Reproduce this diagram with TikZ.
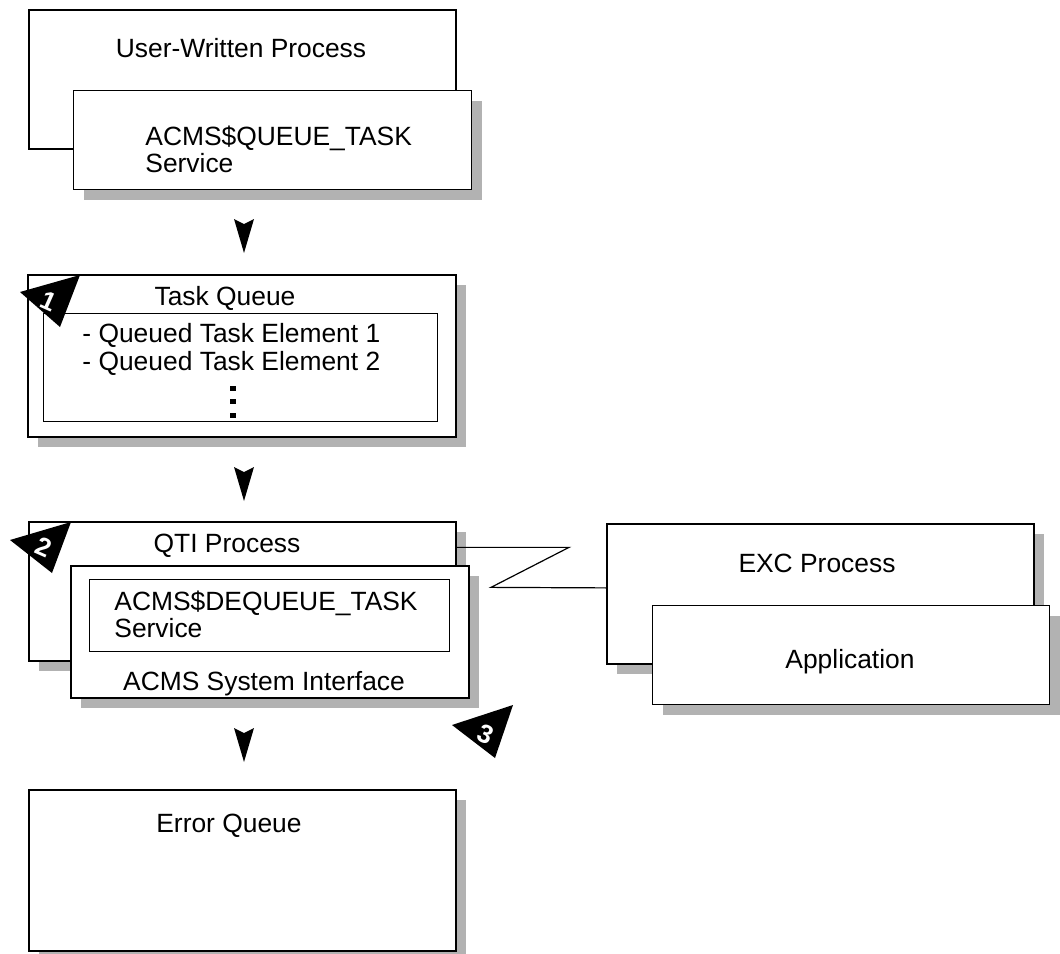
\documentclass[tikz,border=0pt]{standalone}
\usepackage{fontspec}
\setmainfont{Liberation Sans}
\usetikzlibrary{calc, shadows}
\tikzset{
  box/.style={draw, fill=white, line width=1pt, anchor=north west, inner sep=0pt},
  thinbox/.style={box, line width=0.5pt},
  shade/.style={drop shadow={shadow xshift=5pt, shadow yshift=-5pt, fill=black!30, opacity=1}},
  lbl/.style={inner sep=0pt, font=\fontsize{13.2}{13.4}\selectfont},
  digit/.style={inner sep=0pt, text=white, rotate=-24, font=\fontsize{13}{13}\selectfont\bfseries},
  link/.style={line width=0.6pt},
  downtip/.pic={\fill (-10,0) -- (0,5) -- (10,0) -- (0,34) -- cycle;}
}

\begin{document}
\begin{tikzpicture}[x=0.5pt, y=-0.5pt]
\useasboundingbox (0,0) rectangle (1060,953);
\node[box, minimum width=213.5pt, minimum height=69.5pt] (user) at (28,9) {};
\node[thinbox, shade, minimum width=199pt, minimum height=49.5pt] (qsvc) at (73,90) {};
\node[lbl, anchor=base] (userlbl) at (241,57) {User-Written Process};
\node[lbl, anchor=base west, align=left] (qsvclbl) at (145,172) {ACMS\$QUEUE\_TASK\\Service};
\pic at (244,219) {downtip};

\node[box, shade, minimum width=214pt, minimum height=81pt] (tq) at (27,274) {};
\node[thinbox, minimum width=197pt, minimum height=54pt] (tqlist) at (43,313) {};
\node[lbl, anchor=base] (tqlbl) at (225,305) {Task Queue};
\node[lbl, anchor=base west] (elem1) at (82,342) {- Queued Task Element 1};
\node[lbl, anchor=base west] (elem2) at (82,370) {- Queued Task Element 2};
\foreach \y in {388,401,415}
  \fill (230,\y-2.5) rectangle ++(6,5);
\fill (20,292) -- (80,275) -- (60,327) -- cycle;
\node[digit] (one) at (49,301) {1};
\pic at (244,467) {downtip};

\node[box, shade, minimum width=213.5pt, minimum height=69.5pt] (qti) at (28,521) {};
\node[lbl, anchor=base] (qtilbl) at (227,552) {QTI Process};
\node[box, shade, minimum width=199pt, minimum height=66pt] (asi) at (70,565) {};
\node[thinbox, minimum width=180pt, minimum height=36pt] (dqsvc) at (89,579) {};
\node[lbl, anchor=base west, align=left] (dqsvclbl) at (114,637) {ACMS\$DEQUEUE\_TASK\\Service};
\node[lbl, anchor=base] (asilbl) at (264,690) {ACMS System Interface};
\fill (10,540) -- (71,522) -- (52,573) -- cycle;
\node[digit] (two) at (44,547) {2};

\node[box, shade, minimum width=213.5pt, minimum height=70pt] (exc) at (606,523) {};
\node[lbl, anchor=base] (exclbl) at (817,572) {EXC Process};
\node[thinbox, shade, minimum width=198.5pt, minimum height=49.5pt] (app) at (652,605) {};
\node[lbl, anchor=base] (applbl) at (850,668) {Application};
\draw[link] ($(qti.north east)!.187!(qti.south east)$) -- ++(112,0) -- ++(-78,40)
  -- ($(exc.north west)!.457!(exc.south west)$);

\fill (452,725) -- (513,705) -- (495,758) -- cycle;
\node[digit] (three) at (486,734) {3};
\pic at (244,728) {downtip};

\node[box, shade, minimum width=213.5pt, minimum height=80.5pt] (errq) at (28,789) {};
\node[lbl, anchor=base] (errqlbl) at (229,832) {Error Queue};
\end{tikzpicture}
\end{document}
